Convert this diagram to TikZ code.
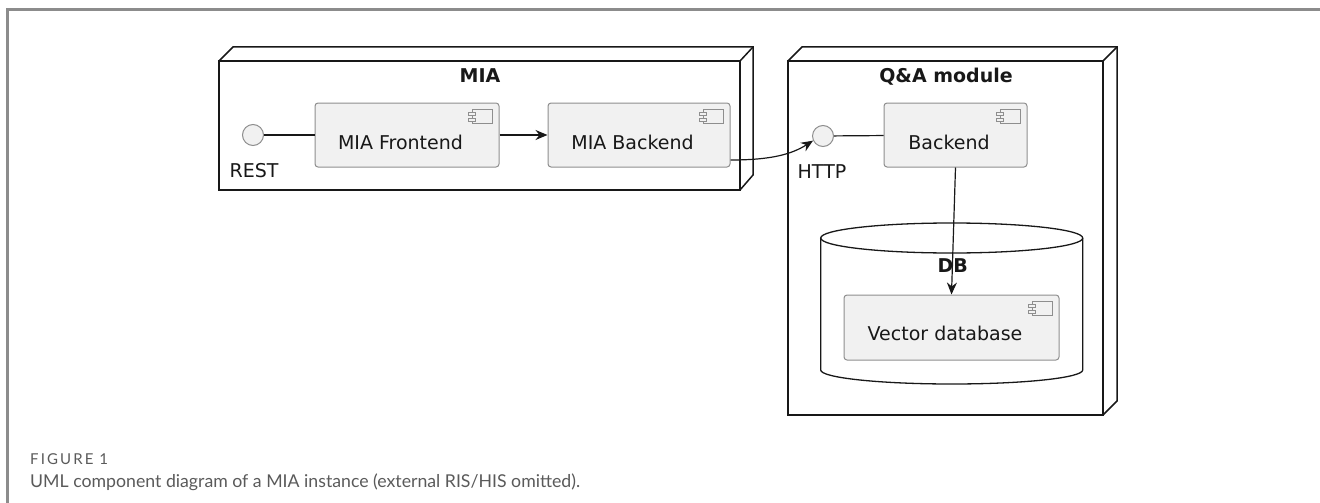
\documentclass[tikz,border=0pt]{standalone}
\usepackage{fontspec}
\setmainfont{DejaVu Sans}
\newfontfamily\capfont{Lato}
\newfontfamily\capspaced[LetterSpace=14]{Lato}
\usetikzlibrary{arrows.meta,calc}

\definecolor{compfill}{HTML}{F1F1F1}
\definecolor{compdraw}{HTML}{8E8E8E}
\definecolor{ink}{HTML}{181818}
\definecolor{framegray}{HTML}{8C8C8C}
\definecolor{capgray}{HTML}{5A5A5A}

\tikzset{
  outline/.style={draw=ink, line width=1.5pt, line join=miter},
  compbox/.style={rectangle, rounded corners=3pt, fill=compfill, draw=compdraw,
                  line width=1pt, inner sep=0pt},
  iface/.style={circle, fill=compfill, draw=compdraw, line width=1pt,
                inner sep=0pt, minimum size=21pt},
  ctext/.style={inner sep=0pt, anchor=base, text=ink,
                font=\fontsize{19}{22}\selectfont},
  ttext/.style={inner sep=0pt, anchor=base, text=ink,
                font=\fontsize{19}{22}\selectfont\bfseries},
  wire/.style={draw=ink, line width=1.2pt},
  arr/.style={draw=ink, line width=1.2pt,
              -{Stealth[length=12pt, width=10pt, inset=4pt]}},
  compicon/.pic={
    \draw[compdraw, fill=compfill, line width=0.9pt] (-27,7) rectangle (-7,21);
    \draw[compdraw, fill=compfill, line width=0.9pt] (-31,10) rectangle (-24,13);
    \draw[compdraw, fill=compfill, line width=0.9pt] (-31,15.5) rectangle (-24,18.5);
  }
}

\begin{document}
\begin{tikzpicture}[x=1pt, y=-1pt]
  \useasboundingbox (0,0) rectangle (1320,503);

  % page frame
  \draw[framegray, line width=2.2pt] (7.5,503) -- (7.5,9.5) -- (1320,9.5);

  % MIA node (3D box)
  \draw[outline] (219,61) rectangle (740,190);
  \draw[outline] (219,61) -- (233,47) -- (753,47) -- (753,175) -- (740,190);
  \draw[outline] (740,61) -- (753,47);
  \node[ttext] (miatitle) at (480,82) {MIA};

  % Q&A module node (3D box)
  \draw[outline] (788,61) rectangle (1103,415);
  \draw[outline] (788,61) -- (802,47) -- (1117,47) -- (1117,401) -- (1103,415);
  \draw[outline] (1103,61) -- (1117,47);
  \node[ttext] (qatitle) at (946,82) {Q\&A module};

  % DB cylinder
  \draw[outline, line width=1.3pt] (820.7,238) -- (820.7,370)
      arc[start angle=180, end angle=360, x radius=131pt, y radius=14pt]
      -- (1082.7,238);
  \draw[outline, line width=1.3pt] (951.7,238) ellipse[x radius=131pt, y radius=15pt];
  \node[ttext] (dbtitle) at (952.7,272.7) {DB};

  % components
  \node[compbox, minimum width=184pt, minimum height=64pt] (fe) at (407,135) {};
  \node[ctext] (fetxt) at (400.5,149) {MIA Frontend};
  \pic at (fe.north east) {compicon};

  \node[compbox, minimum width=182pt, minimum height=64pt] (mb) at (639,135) {};
  \node[ctext] (mbtxt) at (632.5,149) {MIA Backend};
  \pic at (mb.north east) {compicon};

  \node[compbox, minimum width=143pt, minimum height=64pt] (qb) at (955.5,135) {};
  \node[ctext] (qbtxt) at (949,149) {Backend};
  \pic at (qb.north east) {compicon};

  \node[compbox, minimum width=215pt, minimum height=65pt] (vdb) at (951.5,327.5) {};
  \node[ctext] (vdbtxt) at (945,340.7) {Vector database};
  \pic at (vdb.north east) {compicon};

  % interfaces
  \node[iface] (rest) at (253,135) {};
  \node[ctext] (resttxt) at (254,177) {REST};
  \node[iface] (http) at (823,136) {};
  \node[ctext] (httptxt) at (822,178) {HTTP};

  % connectors
  \draw[wire] (rest) -- (fe);
  \draw[wire] (http) -- (qb);
  \draw[arr] (fe) -- (mb);
  \coordinate (mbout) at ($(mb.east)+(0,25)$);
  \draw[arr] (mbout) .. controls (772,160) and (792,154) .. (http.205);
  \draw[arr] (qb.south) -- (vdb.north);

  % caption
  \node[inner sep=0pt, anchor=base west, text=capgray,
        font=\capspaced\fontsize{15}{17}\selectfont] (figno) at (30,464) {FIGURE 1};
  \node[inner sep=0pt, anchor=base west, text=capgray,
        font=\capfont\fontsize{17.7}{20}\selectfont] (cap) at (30,487)
        {UML component diagram of a MIA instance (external RIS/HIS omitted).};
\end{tikzpicture}
\end{document}
